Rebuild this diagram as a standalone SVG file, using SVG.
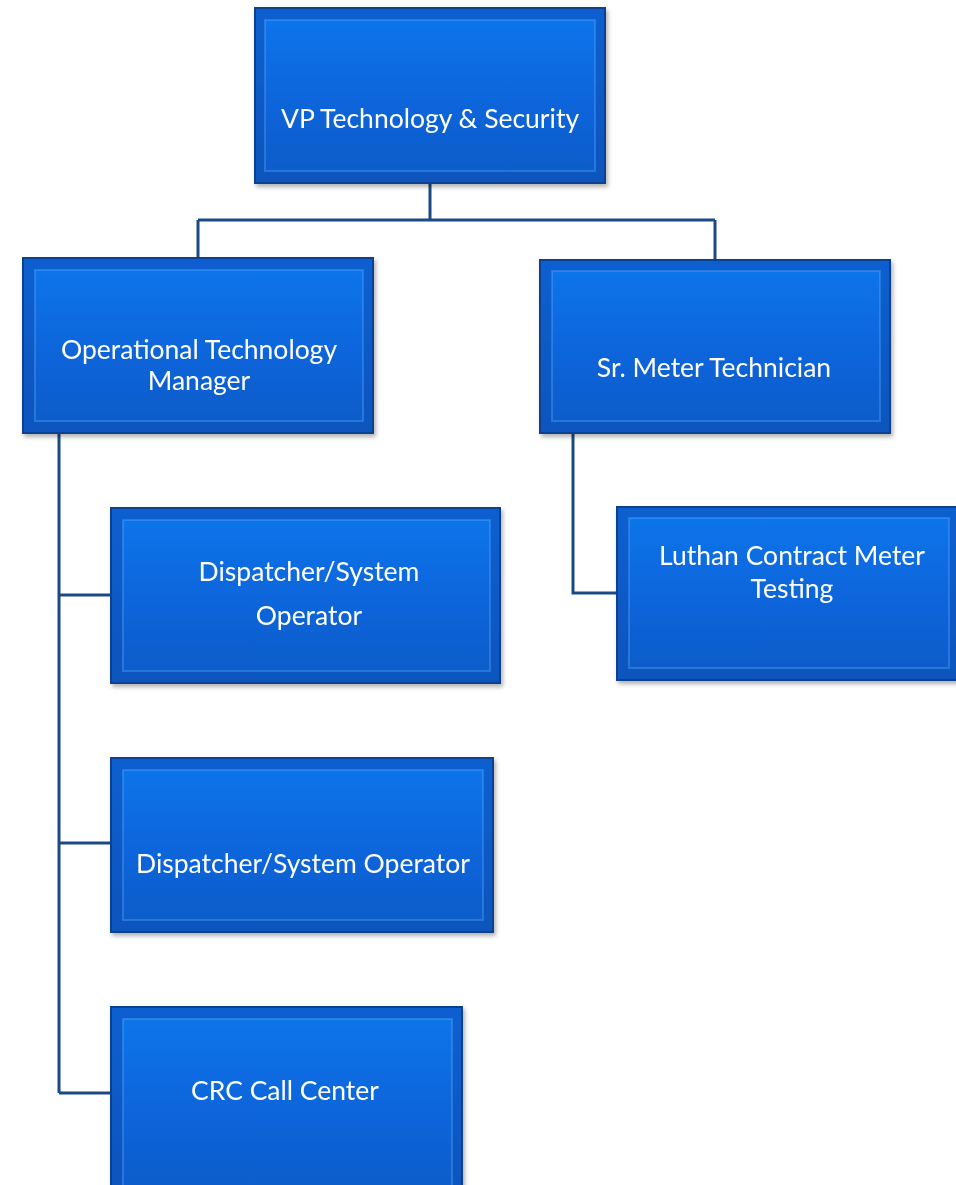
<svg xmlns="http://www.w3.org/2000/svg" width="956" height="1185" viewBox="0 0 956 1185">
<style>
.box{fill:url(#g);stroke:#0a3f8f;stroke-width:2}
.bev{fill:none;stroke:#5fb0ff;stroke-width:2;stroke-opacity:0.35}
.inner{fill:url(#gi)}
.lbl{font-family:Lato,"Open Sans","Liberation Sans",sans-serif;font-size:26.5px;fill:#ffffff;text-anchor:middle}
.con{fill:none;stroke:#1a4a86;stroke-width:3}
</style>
<defs>
<linearGradient id="g" x1="0" y1="0" x2="0" y2="1">
<stop offset="0" stop-color="#0b5fd0"/>
<stop offset="1" stop-color="#0a55bd"/>
</linearGradient>
<linearGradient id="gi" x1="0" y1="0" x2="0" y2="1">
<stop offset="0" stop-color="#0f74ea"/>
<stop offset="0.5" stop-color="#0c66dc"/>
<stop offset="1" stop-color="#0a5cca"/>
</linearGradient>
<filter id="sh" x="-5%" y="-5%" width="112%" height="115%">
<feDropShadow dx="2" dy="3" stdDeviation="2" flood-color="#000" flood-opacity="0.3"/>
</filter>
</defs>
<rect width="956" height="1185" fill="#ffffff"/>
<g id="connectors">
<path class="con" d="M430 183 V220 M198 220 H715 M198 220 V258 M715 220 V260"/>
<path class="con" d="M59 433 V1093 M59 595 H111 M59 843 H111 M59 1093 H111"/>
<path class="con" d="M573 433 V593 H618"/>
</g>
<g id="vp" filter="url(#sh)">
<rect class="box" x="255" y="8" width="350" height="175"/>
<rect class="inner" x="265" y="20" width="330" height="151"/>
<rect class="bev" x="265" y="20" width="330" height="151"/>
<text class="lbl" x="430" y="128">VP Technology &amp; Security</text>
</g>
<g id="otm" filter="url(#sh)">
<rect class="box" x="23" y="258" width="350" height="175"/>
<rect class="inner" x="35" y="270" width="328" height="151"/>
<rect class="bev" x="35" y="270" width="328" height="151"/>
<text class="lbl" x="199" y="359">Operational Technology</text>
<text class="lbl" x="199" y="390">Manager</text>
</g>
<g id="srmeter" filter="url(#sh)">
<rect class="box" x="540" y="260" width="350" height="173"/>
<rect class="inner" x="552" y="271" width="328" height="150"/>
<rect class="bev" x="552" y="271" width="328" height="150"/>
<text class="lbl" x="714" y="377">Sr. Meter Technician</text>
</g>
<g id="luthan" filter="url(#sh)">
<rect class="box" x="617" y="507" width="345" height="173"/>
<rect class="inner" x="629" y="518" width="320" height="150"/>
<rect class="bev" x="629" y="518" width="320" height="150"/>
<text class="lbl" x="792" y="565">Luthan Contract Meter</text>
<text class="lbl" x="792" y="598">Testing</text>
</g>
<g id="disp1" filter="url(#sh)">
<rect class="box" x="111" y="508" width="389" height="175"/>
<rect class="inner" x="123" y="520" width="367" height="151"/>
<rect class="bev" x="123" y="520" width="367" height="151"/>
<text class="lbl" x="309" y="581">Dispatcher/System</text>
<text class="lbl" x="309" y="625">Operator</text>
</g>
<g id="disp2" filter="url(#sh)">
<rect class="box" x="111" y="758" width="382" height="174"/>
<rect class="inner" x="123" y="770" width="360" height="150"/>
<rect class="bev" x="123" y="770" width="360" height="150"/>
<text class="lbl" x="303" y="873">Dispatcher/System Operator</text>
</g>
<g id="crc" filter="url(#sh)">
<rect class="box" x="111" y="1007" width="351" height="185"/>
<rect class="inner" x="123" y="1019" width="329" height="170"/>
<rect class="bev" x="123" y="1019" width="329" height="170"/>
<text class="lbl" x="285" y="1100">CRC Call Center</text>
</g>
</svg>
